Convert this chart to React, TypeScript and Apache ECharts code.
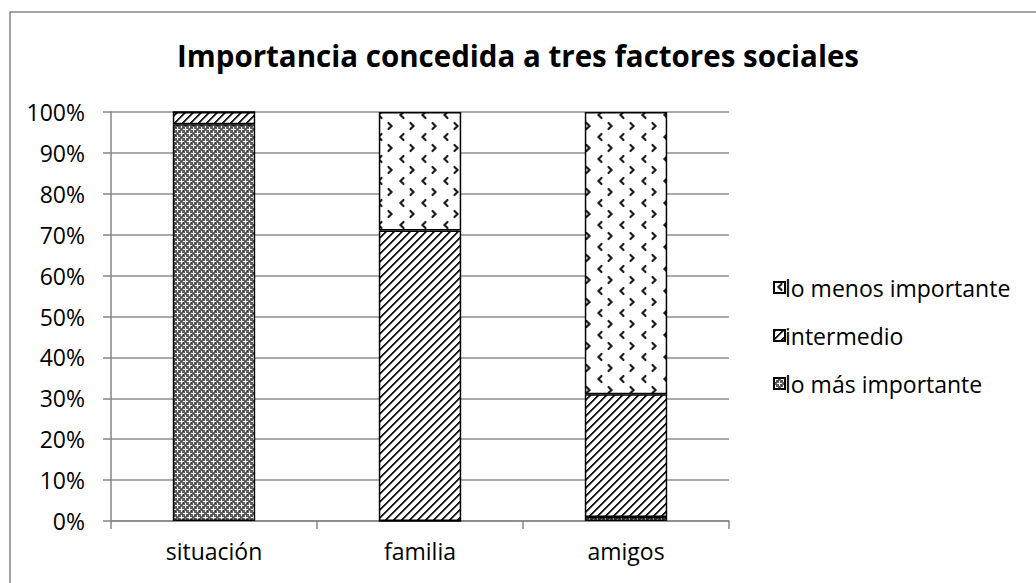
import React, { useEffect, useRef } from "react";
import * as echarts from "echarts";

const categories = ["situación", "familia", "amigos"];
const seriesNames = ["lo más importante", "intermedio", "lo menos importante"];
const masImportante = [97, 0, 1];
const intermedio = [3, 71, 30];
const menosImportante = [0, 29, 69];
const legendOrder = ["lo menos importante", "intermedio", "lo más importante"];

const FONT = "'Open Sans', 'Noto Sans', sans-serif";

function makePattern(w: number, h: number, draw: (ctx: CanvasRenderingContext2D) => void) {
  const c = document.createElement("canvas");
  c.width = w;
  c.height = h;
  const ctx = c.getContext("2d") as CanvasRenderingContext2D;
  draw(ctx);
  return { image: c.toDataURL(), repeat: "repeat", imageWidth: w, imageHeight: h } as any;
}

function crossPattern() {
  return makePattern(8, 8, (ctx) => {
    ctx.fillStyle = "#5e5e5e";
    ctx.fillRect(0, 0, 8, 8);
    ctx.fillStyle = "#ffffff";
    const plus = (cx: number, cy: number) => {
      ctx.fillRect(cx - 2, cy, 5, 1);
      ctx.fillRect(cx, cy - 2, 1, 5);
    };
    plus(1, 1);
    plus(9, 1);
    plus(1, 9);
    plus(9, 9);
    plus(5, 5);
    ctx.fillStyle = "#333";
    ctx.fillRect(3, 3, 1, 1);
    ctx.fillRect(7, 7, 1, 1);
  });
}

function diagPattern() {
  return makePattern(8, 8, (ctx) => {
    ctx.fillStyle = "#ffffff";
    ctx.fillRect(0, 0, 8, 8);
    for (let x = 0; x < 8; x++) {
      for (let y = 0; y < 8; y++) {
        const d = (x + y) % 8;
        if (d === 0 || d === 1) {
          ctx.fillStyle = "#1a1a1a";
          ctx.fillRect(x, y, 1, 1);
        } else if (d === 2) {
          ctx.fillStyle = "#8a8a8a";
          ctx.fillRect(x, y, 1, 1);
        }
      }
    }
  });
}

function chevronPattern() {
  return makePattern(22, 22, (ctx) => {
    ctx.fillStyle = "#ffffff";
    ctx.fillRect(0, 0, 22, 22);
    ctx.strokeStyle = "#1e1e1e";
    ctx.lineWidth = 2.2;
    ctx.lineCap = "round";
    ctx.beginPath();
    ctx.moveTo(7.5, 2);
    ctx.lineTo(4.5, 5);
    ctx.lineTo(7.5, 8);
    ctx.stroke();
    ctx.beginPath();
    ctx.moveTo(14.5, 13);
    ctx.lineTo(17.5, 16);
    ctx.lineTo(14.5, 19);
    ctx.stroke();
  });
}

export default function App() {
  const ref = useRef<HTMLDivElement>(null);
  useEffect(() => {
    document.body.style.margin = "0";
    const chart = echarts.init(ref.current as HTMLDivElement, null, { renderer: "svg" });
    const patterns = [crossPattern(), diagPattern(), chevronPattern()];
    const values = [masImportante, intermedio, menosImportante];
    chart.setOption({
      animation: false,
      backgroundColor: "#ffffff",
      title: {
        text: "Importancia concedida a tres factores sociales",
        left: "center",
        top: 40,
        padding: 0,
        textStyle: { fontFamily: FONT, fontWeight: "bold", fontSize: 29.5, color: "#000" },
      },
      graphic: [
        {
          type: "rect",
          shape: { x: 10, y: 12, width: 1100, height: 700 },
          style: { fill: "none", stroke: "#868686", lineWidth: 1.5 },
          silent: true,
        },
      ],
      legend: {
        orient: "vertical",
        left: 768,
        top: 269,
        data: legendOrder,
        icon: "rect",
        itemWidth: 11,
        itemHeight: 11,
        itemGap: 21,
        textStyle: { fontFamily: FONT, fontSize: 23, color: "#000", lineHeight: 27, padding: [0, 0, 0, -5] },
      },
      grid: { left: 111, right: 307, top: 112, bottom: 62 },
      xAxis: {
        type: "category",
        data: categories,
        axisLine: { lineStyle: { color: "#868686", width: 1.5 } },
        axisTick: { show: true, length: 8, lineStyle: { color: "#868686", width: 1.5 } },
        axisLabel: { fontFamily: FONT, fontSize: 23, color: "#000", margin: 18 },
      },
      yAxis: {
        type: "value",
        min: 0,
        max: 100,
        interval: 10,
        axisLine: { show: true, lineStyle: { color: "#868686", width: 1.5 } },
        axisTick: { show: true, length: 8, lineStyle: { color: "#868686", width: 1.5 } },
        splitLine: { lineStyle: { color: "#8c8c8c", width: 1.5 } },
        axisLabel: { fontFamily: FONT, fontSize: 23, color: "#000", margin: 26, formatter: "{value}%" },
      },
      series: seriesNames.map((name, i) => ({
        name,
        type: "bar",
        stack: "total",
        barWidth: "40%",
        data: values[i],
        itemStyle: { color: patterns[i], borderColor: "#000", borderWidth: 1.5 },
        emphasis: { disabled: true },
      })),
    });
    return () => chart.dispose();
  }, []);
  return <div ref={ref} style={{ width: 1036, height: 583 }} />;
}
